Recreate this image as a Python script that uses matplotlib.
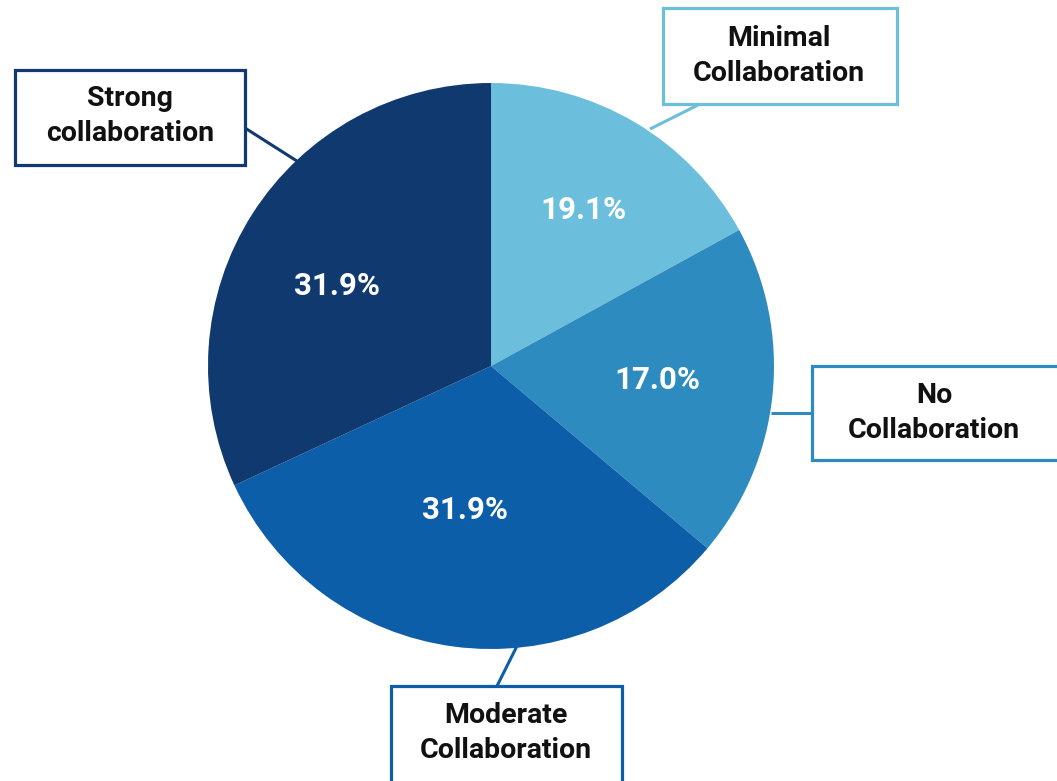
import matplotlib.pyplot as plt
from matplotlib.patches import Rectangle

# slice sizes as drawn, and the percentages printed on them
categories = ["Minimal\nCollaboration", "No\nCollaboration",
              "Moderate\nCollaboration", "Strong\ncollaboration"]
sizes = [17.0, 19.1, 31.9, 31.9]
pct_labels = ["19.1%", "17.0%", "31.9%", "31.9%"]
colors = ["#6cbfdc", "#2e8bc0", "#0b5ea7", "#103a6f"]

W, H = 1057, 781
fig = plt.figure(figsize=(W / 100, H / 100), dpi=100)
ax = fig.add_axes([0, 0, 1, 1])

cx, cy, r = 491, H - 366, 283
wedges, _ = ax.pie(sizes, colors=colors, startangle=90, counterclock=False,
                   center=(cx, cy), radius=r, frame=True,
                   wedgeprops=dict(linewidth=0))
ax.set_xlim(0, W)
ax.set_ylim(0, H)
ax.set_aspect("equal")
ax.axis("off")

# percentage text inside slices
pct_pos = [(583, 210), (657, 380), (465, 510), (337, 286)]
for (x, y), t in zip(pct_pos, pct_labels):
    ax.text(x, H - y, t, color="white", fontsize=22.5, fontweight="bold",
            family="Roboto", ha="center", va="center")

# label boxes (left, top, right, bottom in pixels) and leader lines
boxes = [(663, 8, 897, 104), (812, 366, 1070, 460),
         (391, 686, 622, 800), (15, 70, 245, 165)]
text_pos = [(779, 56), (934, 413), (506, 733), (130, 116)]
leaders = [((700, 104), (650, 129)), ((771, 413), (812, 413)),
           ((517, 646), (497, 686)), ((245, 128), (300, 163))]

for cat, col, (l, t, rr, b), (tx, ty), (p1, p2) in zip(
        categories, colors, boxes, text_pos, leaders):
    ax.plot([p1[0], p2[0]], [H - p1[1], H - p2[1]], color=col, lw=2.2,
            solid_capstyle="butt")
    ax.add_patch(Rectangle((l, H - b), rr - l, b - t, facecolor="white",
                           edgecolor=col, lw=2.3, zorder=3))
    ax.text(tx, H - ty, cat, fontsize=20.5, fontweight="bold", family="Roboto",
            ha="center", va="center", color="#111111", linespacing=1.38,
            zorder=4)

fig.savefig("out.png", dpi=100)
